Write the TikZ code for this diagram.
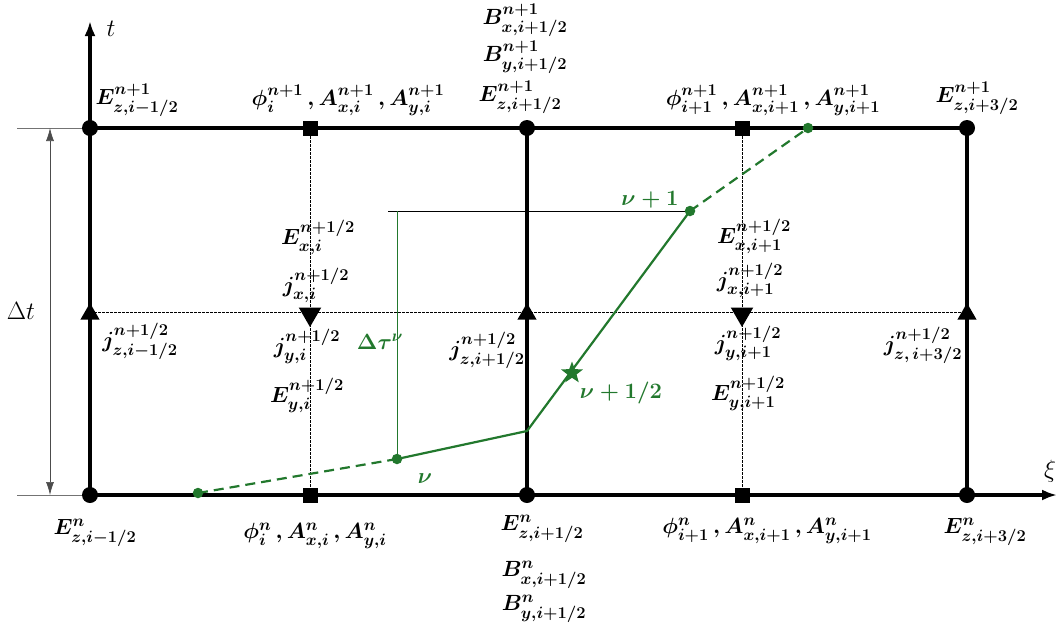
\documentclass[tikz,border=0pt]{standalone}
\usepackage{fix-cm}
\usepackage{amsmath}
\DeclareMathSizes{22}{22}{16.5}{13}
\DeclareMathSizes{25}{25}{18}{14}
\usetikzlibrary{shapes.geometric,arrows.meta}
\definecolor{dgreen}{RGB}{34,120,45}
\begin{document}
\begin{tikzpicture}[x=1pt,y=-1pt,
  thickl/.style={line width=3.5pt},
  dotl/.style={line width=0.8pt,dash pattern=on 2.5pt off 1.5pt},
  thinl/.style={line width=0.7pt},
  gridpt/.style={circle,fill=black,inner sep=0pt,minimum size=16pt},
  sqpt/.style={rectangle,fill=black,inner sep=0pt,minimum size=15pt},
  tup/.style={regular polygon,regular polygon sides=3,fill=black,inner sep=0pt,minimum size=22pt},
  tdown/.style={regular polygon,regular polygon sides=3,fill=black,inner sep=0pt,minimum size=26pt,shape border rotate=180},
  gdot/.style={circle,fill=dgreen,inner sep=0pt,minimum size=10.5pt},
  lab/.style={inner sep=0pt,font=\fontsize{22}{26}\selectfont\boldmath},
  plainlab/.style={inner sep=0pt,font=\fontsize{25}{29}\selectfont},
  glab/.style={lab,text=dgreen},
  gline/.style={dgreen,line width=2.2pt},
  gdash/.style={gline,dash pattern=on 10pt off 6pt},
]
\useasboundingbox (0,0) rectangle (1058,630);
% grid coordinates
\coordinate (A0) at (90,495);  \coordinate (B0) at (310,495); \coordinate (C0) at (527,495);
\coordinate (D0) at (742,495); \coordinate (E0) at (967,495);
\coordinate (A1) at (90,128);  \coordinate (B1) at (310,128); \coordinate (C1) at (527,128);
\coordinate (D1) at (742,128); \coordinate (E1) at (967,128);
\coordinate (AM) at (90,312);  \coordinate (EM) at (967,312);
\coordinate (tEnd) at (90,21);  \coordinate (xiEnd) at (1057,495);
\coordinate (ext1) at (17,128); \coordinate (ext0) at (17,495);
\coordinate (dt1) at (50,128);  \coordinate (dt0) at (50,495);
% green path points
\coordinate (g0) at (198,493); \coordinate (g1) at (397,459); \coordinate (g2) at (527,431);
\coordinate (g3) at (690,211); \coordinate (g4) at (808,128);
\coordinate (hl) at (388,211); \coordinate (vt) at (397,211);

% dotted lines
\draw[dotl] (B1) -- (B0);
\draw[dotl] (D1) -- (D0);
\draw[dotl] (AM) -- (EM);
% extension and dimension lines
\draw[thinl,black!55] (ext1) -- (A1);
\draw[thinl,black!55] (ext0) -- (A0);
\draw[thinl,black!70,{Latex[length=13pt,width=8pt]}-{Latex[length=13pt,width=8pt]}] (dt1) -- (dt0);
% thick frame and axes
\draw[thickl,-{Latex[length=15pt,width=11pt]}] (A0) -- (tEnd);
\draw[thickl,-{Latex[length=15pt,width=11pt]}] (A0) -- (xiEnd);
\draw[thickl] (A1) -- (E1);
\draw[thickl] (C1) -- (C0);
\draw[thickl] (E1) -- (E0);
% delta tau construction
\draw[line width=0.8pt] (hl) -- (g3);
\draw[dgreen,line width=0.8pt] (vt) -- (g1);
% green trajectory
\draw[gdash] (g0) -- (g1);
\draw[gline] (g1) -- (g2) -- (g3);
\draw[gdash] (g3) -- (g4);

% markers
\node[gridpt] (nA1) at (A1) {}; \node[gridpt] (nC1) at (C1) {}; \node[gridpt] (nE1) at (E1) {};
\node[gridpt] (nA0) at (A0) {}; \node[gridpt] (nC0) at (C0) {}; \node[gridpt] (nE0) at (E0) {};
\node[sqpt] (nB1) at (B1) {}; \node[sqpt] (nD1) at (D1) {};
\node[sqpt] (nB0) at (B0) {}; \node[sqpt] (nD0) at (D0) {};
\node[tup] (tu1) at (90,314) {}; \node[tup] (tu2) at (527,314) {}; \node[tup] (tu3) at (967,314) {};
\node[tdown] (td1) at (310,314) {}; \node[tdown] (td2) at (742,314) {};
\node[gdot] (ng0) at (g0) {}; \node[gdot] (ng1) at (g1) {};
\node[gdot] (ng3) at (g3) {}; \node[gdot] (ng4) at (g4) {};
\node[star,star points=5,star point ratio=2.4,fill=dgreen,inner sep=0pt,minimum size=23pt] (st) at (572,373) {};

% axis labels
\node[plainlab] (tl) at (111,29) {$t$};
\node[plainlab] (xil) at (1050,471) {$\xi$};
\node[plainlab] (dtl) at (21,311) {$\Delta t$};

% top labels
\node[lab] (L1) at (137,100) {$E^{n+1}_{z,i-1/2}$};
\node[lab] (L2) at (348,100) {$\phi^{n+1}_{i}\,,A^{n+1}_{x,i}\,,A^{n+1}_{y,i}$};
\node[lab] (L3) at (525,20) {$B^{n+1}_{x,i+1/2}$};
\node[lab] (L4) at (525,57) {$B^{n+1}_{y,i+1/2}$};
\node[lab] (L5) at (520,97) {$E^{n+1}_{z,i+1/2}$};
\node[lab] (L6) at (773,100) {$\phi^{n+1}_{i+1}\,,A^{n+1}_{x,i+1}\,,A^{n+1}_{y,i+1}$};
\node[lab] (L7) at (977,98) {$E^{n+1}_{z,i+3/2}$};

% middle labels
\node[lab] (M1) at (318,237) {$E^{n+1/2}_{x,i}$};
\node[lab] (M2) at (316,285) {$j^{n+1/2}_{x,i}$};
\node[lab] (M3) at (307,346) {$j^{n+1/2}_{y,i}$};
\node[lab] (M4) at (307,395) {$E^{n+1/2}_{y,i}$};
\node[lab] (M5) at (754,236) {$E^{n+1/2}_{x,i+1}$};
\node[lab] (M6) at (750,280) {$j^{n+1/2}_{x,i+1}$};
\node[lab] (M7) at (748,343) {$j^{n+1/2}_{y,i+1}$};
\node[lab] (M8) at (748,393) {$E^{n+1/2}_{y,i+1}$};
\node[lab] (M9) at (140,341) {$j^{n+1/2}_{z,i-1/2}$};
\node[lab] (M10) at (487,350) {$j^{n+1/2}_{z,i+1/2}$};
\node[lab] (M11) at (923,345) {$j^{n+1/2}_{z,\,i+3/2}$};

% bottom labels
\node[lab] (B1l) at (95,533) {$E^{n}_{z,i-1/2}$};
\node[lab] (B2l) at (315,536) {$\phi^{n}_{i}\,,A^{n}_{x,i}\,,A^{n}_{y,i}$};
\node[lab] (B3l) at (542,529) {$E^{n}_{z,i+1/2}$};
\node[lab] (B4l) at (544,575) {$B^{n}_{x,i+1/2}$};
\node[lab] (B5l) at (544,609) {$B^{n}_{y,i+1/2}$};
\node[lab] (B6l) at (767,531) {$\phi^{n}_{i+1}\,,A^{n}_{x,i+1}\,,A^{n}_{y,i+1}$};
\node[lab] (B7l) at (985,532) {$E^{n}_{z,i+3/2}$};

% green labels
\node[glab] (G1) at (380,342) {$\Delta\tau^{\nu}$};
\node[glab] (G2) at (425,479) {$\nu$};
\node[glab] (G3) at (650,200) {$\nu+1$};
\node[glab] (G4) at (621,393) {$\nu+1/2$};
\end{tikzpicture}
\end{document}
